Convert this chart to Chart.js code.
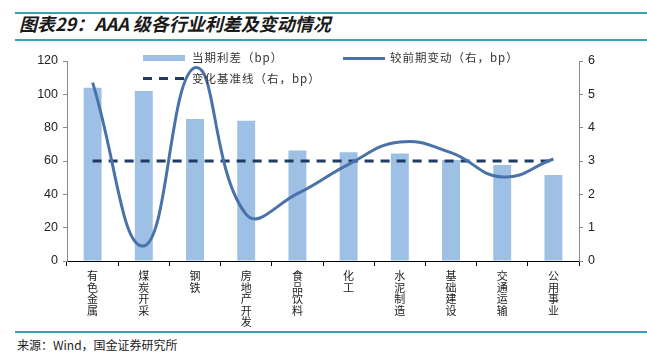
<!DOCTYPE html>
<html lang="zh">
<head>
  <meta charset="UTF-8" />
  <title>AAA 级各行业利差及变动情况</title>
  <script src="https://cdn.jsdelivr.net/npm/chart.js"></script>
  <style>
    body {
      margin: 0;
      width: 647px;
      height: 359px;
      background: #fff;
      position: relative;
      overflow: hidden;
      font-family: "Noto Sans CJK SC", sans-serif;
    }
    .rule {
      position: absolute;
      left: 15px;
      width: 632px;
      height: 2px;
      background: #3a9fb3;
    }
    .title {
      position: absolute;
      left: 19px;
      top: 10px;
      font-size: 18px;
      font-weight: bold;
      font-style: italic;
      color: #1a1a1a;
      white-space: nowrap;
    }
    .source {
      position: absolute;
      left: 17px;
      top: 336px;
      font-size: 12px;
      color: #222;
    }
    #chart {
      position: absolute;
      left: 0;
      top: 40px;
    }
    .legend {
      position: absolute;
      font-size: 11.5px;
      color: #333;
      letter-spacing: 1px;
      white-space: nowrap;
    }
    .sw {
      position: absolute;
      width: 42px;
    }
  </style>
</head>
<body>
  <div class="rule" style="top:12px"></div>
  <div class="title">图表29：AAA 级各行业利差及变动情况</div>
  <div class="rule" style="top:39px"></div>

  <canvas id="chart" width="647" height="290"></canvas>

  <div class="sw" style="left:143px; top:55px; height:6px; background:#9dc0e4"></div>
  <div class="legend" style="left:192px; top:49px">当期利差（bp）</div>
  <div class="sw" style="left:343px; top:57px; height:3px; background:#4a72aa"></div>
  <div class="legend" style="left:390px; top:49px">较前期变动（右，bp）</div>
  <div class="sw" style="left:143px; top:77px; height:3px; background:repeating-linear-gradient(90deg,#1f3a60 0 9px,transparent 9px 16px)"></div>
  <div class="legend" style="left:192px; top:70px">变化基准线（右，bp）</div>

  <div class="rule" style="top:331px"></div>
  <div class="source">来源：Wind，国金证券研究所</div>

  <script>
    const hangye = ["有色金属", "煤炭开采", "钢铁", "房地产开发", "食品饮料", "化工", "水泥制造", "基础建设", "交通运输", "公用事业"];
    const liCha = [104, 102, 85.2, 84.2, 66.3, 65.2, 64.5, 60.6, 57.6, 51.6];
    const bianDong = [5.35, 0.45, 5.8, 1.4, 2.02, 2.9, 3.57, 3.25, 2.52, 3.06];
    const jiZhun = [3, 3, 3, 3, 3, 3, 3, 3, 3, 3];
    const zuoTicks = [0, 20, 40, 60, 80, 100, 120];
    const youTicks = [0, 1, 2, 3, 4, 5, 6];

    const tickFont = { family: "'Liberation Sans', Arial, sans-serif", size: 12.5 };

    new Chart(document.getElementById("chart"), {
      type: "bar",
      data: {
        labels: hangye.map(s => s.split("")),
        datasets: [
          {
            type: "line",
            label: "较前期变动（右，bp）",
            data: bianDong,
            yAxisID: "y1",
            borderColor: "#4a72aa",
            borderWidth: 3,
            pointRadius: 0,
            tension: 0.45,
            fill: false,
            order: 1
          },
          {
            type: "line",
            label: "变化基准线（右，bp）",
            data: jiZhun,
            yAxisID: "y1",
            borderColor: "#1f3a60",
            borderWidth: 3,
            borderDash: [9, 7],
            pointRadius: 0,
            fill: false,
            order: 2
          },
          {
            label: "当期利差（bp）",
            data: liCha,
            yAxisID: "y",
            backgroundColor: "#9dc0e4",
            barPercentage: 0.35,
            categoryPercentage: 1,
            order: 3
          }
        ]
      },
      options: {
        responsive: false,
        animation: false,
        layout: { padding: { top: 21, left: 0, right: 0, bottom: 0 } },
        plugins: {
          legend: { display: false },
          tooltip: { enabled: false }
        },
        scales: {
          x: {
            grid: { offset: true, drawOnChartArea: false, tickLength: 5, color: "#000" },
            border: { color: "#000", width: 1 },
            ticks: {
              maxRotation: 0,
              autoSkip: false,
              padding: 4,
              color: "#222",
              font: { family: "'Noto Sans CJK SC', sans-serif", size: 11, lineHeight: 1.05 }
            },
            afterFit: s => { s.height = 69; }
          },
          y: {
            position: "left",
            min: 0,
            max: 120,
            afterBuildTicks: s => { s.ticks = zuoTicks.map(v => ({ value: v })); },
            grid: { drawOnChartArea: false, tickLength: 4, color: "#888" },
            border: { color: "#888" },
            ticks: { padding: 5, color: "#222", font: tickFont },
            afterFit: s => { s.width = 67; }
          },
          y1: {
            position: "right",
            min: 0,
            max: 6,
            afterBuildTicks: s => { s.ticks = youTicks.map(v => ({ value: v })); },
            grid: { drawOnChartArea: false, tickLength: 4, color: "#888" },
            border: { color: "#888" },
            ticks: { padding: 5, color: "#222", font: tickFont },
            afterFit: s => { s.width = 68; }
          }
        }
      }
    });
  </script>
</body>
</html>
